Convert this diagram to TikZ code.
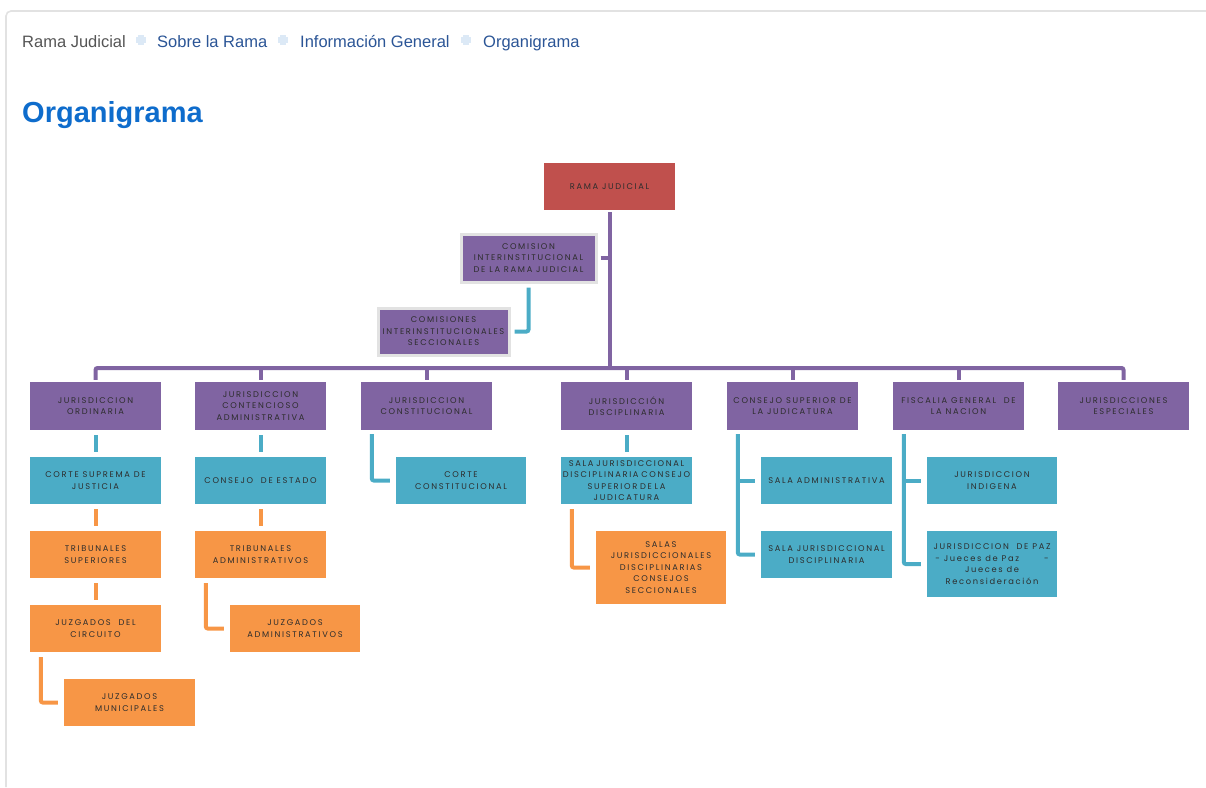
\documentclass[tikz,border=0pt]{standalone}
\usepackage{fontspec}
\setmainfont{Liberation Sans}
\newfontfamily\boxfont{Poppins}[LetterSpace=20.0]
\usetikzlibrary{calc}
\definecolor{orgred}{RGB}{192,80,77}
\definecolor{orgpurple}{RGB}{128,100,162}
\definecolor{orgcyan}{RGB}{75,172,198}
\definecolor{orgorange}{RGB}{247,150,70}
\definecolor{boxtext}{RGB}{45,45,45}
\definecolor{crumbblue}{RGB}{43,85,150}
\definecolor{crumbgray}{RGB}{85,85,85}
\definecolor{titleblue}{RGB}{14,108,204}
\definecolor{dotblue}{RGB}{105,160,215}
\definecolor{framegray}{RGB}{226,226,226}
\tikzset{
  box/.style={rectangle, minimum width=131pt, minimum height=47pt, inner sep=1pt,
    align=center, text=boxtext, font=\boxfont\fontsize{8.3}{11.5}\selectfont},
  redbox/.style={box, fill=orgred},
  purplebox/.style={box, fill=orgpurple},
  cyanbox/.style={box, fill=orgcyan},
  orangebox/.style={box, fill=orgorange},
  glowbox/.style={purplebox, draw=framegray, line width=3pt},
  link/.style={line width=4pt, rounded corners=2pt},
  plink/.style={link, draw=orgpurple},
  clink/.style={link, draw=orgcyan},
  olink/.style={link, draw=orgorange},
  stub/.style={shorten >=5pt, shorten <=5pt},
  crumb/.style={anchor=base west, inner sep=0pt, font=\fontsize{16.5}{18}\selectfont},
  crumbsep/.pic={
    \foreach \dx in {-2,0,2} \foreach \dy in {-4,-2,0,2,4}
      \fill[dotblue] (\dx,\dy) circle (0.6);
    \foreach \dx in {-4,4} \foreach \dy in {-2,0,2}
      \fill[dotblue] (\dx,\dy) circle (0.6);
  }
}
\begin{document}
\begin{tikzpicture}[x=1pt,y=-1pt]
\useasboundingbox (0,0) rectangle (1206,787);

% page frame
\draw[framegray, line width=1.6pt, rounded corners=5pt] (1206,11) -- (6,11) -- (6,787);

% breadcrumb and title
\node[crumb, text=crumbgray] (crumbrama) at (22,47) {Rama Judicial};
\pic at (141,40) {crumbsep};
\node[crumb, text=crumbblue] (crumbsobre) at (157,47) {Sobre la Rama};
\pic at (283,40) {crumbsep};
\node[crumb, text=crumbblue] (crumbinfo) at (300,47) {Información General};
\pic at (466,40) {crumbsep};
\node[crumb, text=crumbblue] (crumborg) at (483,47) {Organigrama};
\node[anchor=base west, inner sep=0pt, text=titleblue, font=\bfseries\fontsize{29}{32}\selectfont]
  (title) at (22,122) {Organigrama};

% top level
\node[redbox] (rama) at (609.5,186.5) {RAMA JUDICIAL};
\node[glowbox, minimum width=135pt, minimum height=48pt] (comision) at (528.5,258)
  {COMISION\\INTERINSTITUCIONAL\\DE LA RAMA JUDICIAL};
\node[glowbox, minimum width=131pt] (seccionales) at (443.5,331.5)
  {COMISIONES\\INTERINSTITUCIONALES\\SECCIONALES};

% jurisdicciones
\node[purplebox, minimum height=48pt] (ordinaria) at (95.5,406) {JURISDICCION\\ORDINARIA};
\node[purplebox, minimum height=48pt] (contencioso) at (260.5,406) {JURISDICCION\\CONTENCIOSO\\ADMINISTRATIVA};
\node[purplebox, minimum height=48pt] (constitucional) at (426.5,406) {JURISDICCION\\CONSTITUCIONAL};
\node[purplebox, minimum height=48pt] (disciplinaria) at (626.5,406) {JURISDICCIÓN\\DISCIPLINARIA};
\node[purplebox, minimum height=48pt] (consejo) at (792.5,406) {CONSEJO SUPERIOR DE\\LA JUDICATURA};
\node[purplebox, minimum height=48pt] (fiscalia) at (958.5,406) {FISCALIA GENERAL \ DE\\LA NACION};
\node[purplebox, minimum height=48pt] (especiales) at (1123.5,406) {JURISDICCIONES\\ESPECIALES};

% second level
\node[cyanbox] (suprema) at (95.5,480.5) {CORTE SUPREMA DE\\JUSTICIA};
\node[cyanbox] (estado) at (260.5,480.5) {CONSEJO \ DE ESTADO};
\node[cyanbox, minimum width=130pt] (corteconst) at (461,480.5) {CORTE\\CONSTITUCIONAL};
\node[cyanbox, text width=129pt] (salajd) at (626.5,480.5)
  {SALA JURISDICCIONAL\\DISCIPLINARIA CONSEJO\\SUPERIOR DE LA\\JUDICATURA};
\node[cyanbox] (salaadm) at (826.5,480.5) {SALA ADMINISTRATIVA};
\node[cyanbox] (salajdisc) at (826.5,554.5) {SALA JURISDICCIONAL\\DISCIPLINARIA};
\node[cyanbox, minimum width=130pt] (indigena) at (992,480.5) {JURISDICCION\\INDIGENA};
\node[cyanbox, minimum width=130pt, minimum height=66pt] (paz) at (992,564)
  {JURISDICCION \ DE PAZ\\- Jueces de Paz\qquad\quad -\\Jueces de\\Reconsideración};

% third level
\node[orangebox] (tribsup) at (95.5,554.5) {TRIBUNALES\\SUPERIORES};
\node[orangebox] (juzcirc) at (95.5,628.5) {JUZGADOS \ DEL\\CIRCUITO};
\node[orangebox] (juzmun) at (129.5,702.5) {JUZGADOS\\MUNICIPALES};
\node[orangebox] (tribadm) at (260.5,554.5) {TRIBUNALES\\ADMINISTRATIVOS};
\node[orangebox, minimum width=130pt] (juzadm) at (295,628.5) {JUZGADOS\\ADMINISTRATIVOS};
\node[orangebox, minimum width=130pt, minimum height=73pt] (salas) at (661,567.5)
  {SALAS\\JURISDICCIONALES\\DISCIPLINARIAS\\CONSEJOS\\SECCIONALES};

% trunk and bar
\coordinate (bar) at (609.5,368);
\draw[plink] ([yshift=-2pt]rama.south) -- (bar);
\draw[plink] ([xshift=3pt]comision.east) -- (comision.east -| bar);
\draw[clink] ([yshift=-4pt]comision.south) |- ([xshift=4pt]seccionales.east);
\draw[plink] ([yshift=2pt]ordinaria.north) |- (bar) -| ([yshift=2pt]especiales.north);
\foreach \n in {contencioso,constitucional,disciplinaria,consejo,fiscalia}
  \draw[plink] ([yshift=2pt]\n.north) -- (\n.north |- bar);

% cyan links
\draw[clink, stub] (ordinaria) -- (suprema);
\draw[clink, stub] (contencioso) -- (estado);
\draw[clink, stub] (disciplinaria) -- (salajd);
\draw[clink] ([xshift=11pt,yshift=-4pt]constitucional.south west) |- ([xshift=-6pt]corteconst.west);
\draw[clink] ([xshift=11pt,yshift=-4pt]consejo.south west) |- ([xshift=-6pt]salajdisc.west);
\draw[clink] ([xshift=11pt]consejo.south west |- salaadm.west) -- ([xshift=-6pt]salaadm.west);
\draw[clink] ([xshift=11pt,yshift=-4pt]fiscalia.south west) |- ([xshift=-6pt]paz.west);
\draw[clink] ([xshift=11pt]fiscalia.south west |- indigena.west) -- ([xshift=-6pt]indigena.west);

% orange links
\draw[olink, stub] (suprema) -- (tribsup);
\draw[olink, stub] (tribsup) -- (juzcirc);
\draw[olink, stub] (estado) -- (tribadm);
\draw[olink] ([xshift=11pt,yshift=-5pt]juzcirc.south west) |- ([xshift=-6pt]juzmun.west);
\draw[olink] ([xshift=11pt,yshift=-5pt]tribadm.south west) |- ([xshift=-6pt]juzadm.west);
\draw[olink] ([xshift=11pt,yshift=-5pt]salajd.south west) |- ([xshift=-6pt]salas.west);
\end{tikzpicture}
\end{document}
